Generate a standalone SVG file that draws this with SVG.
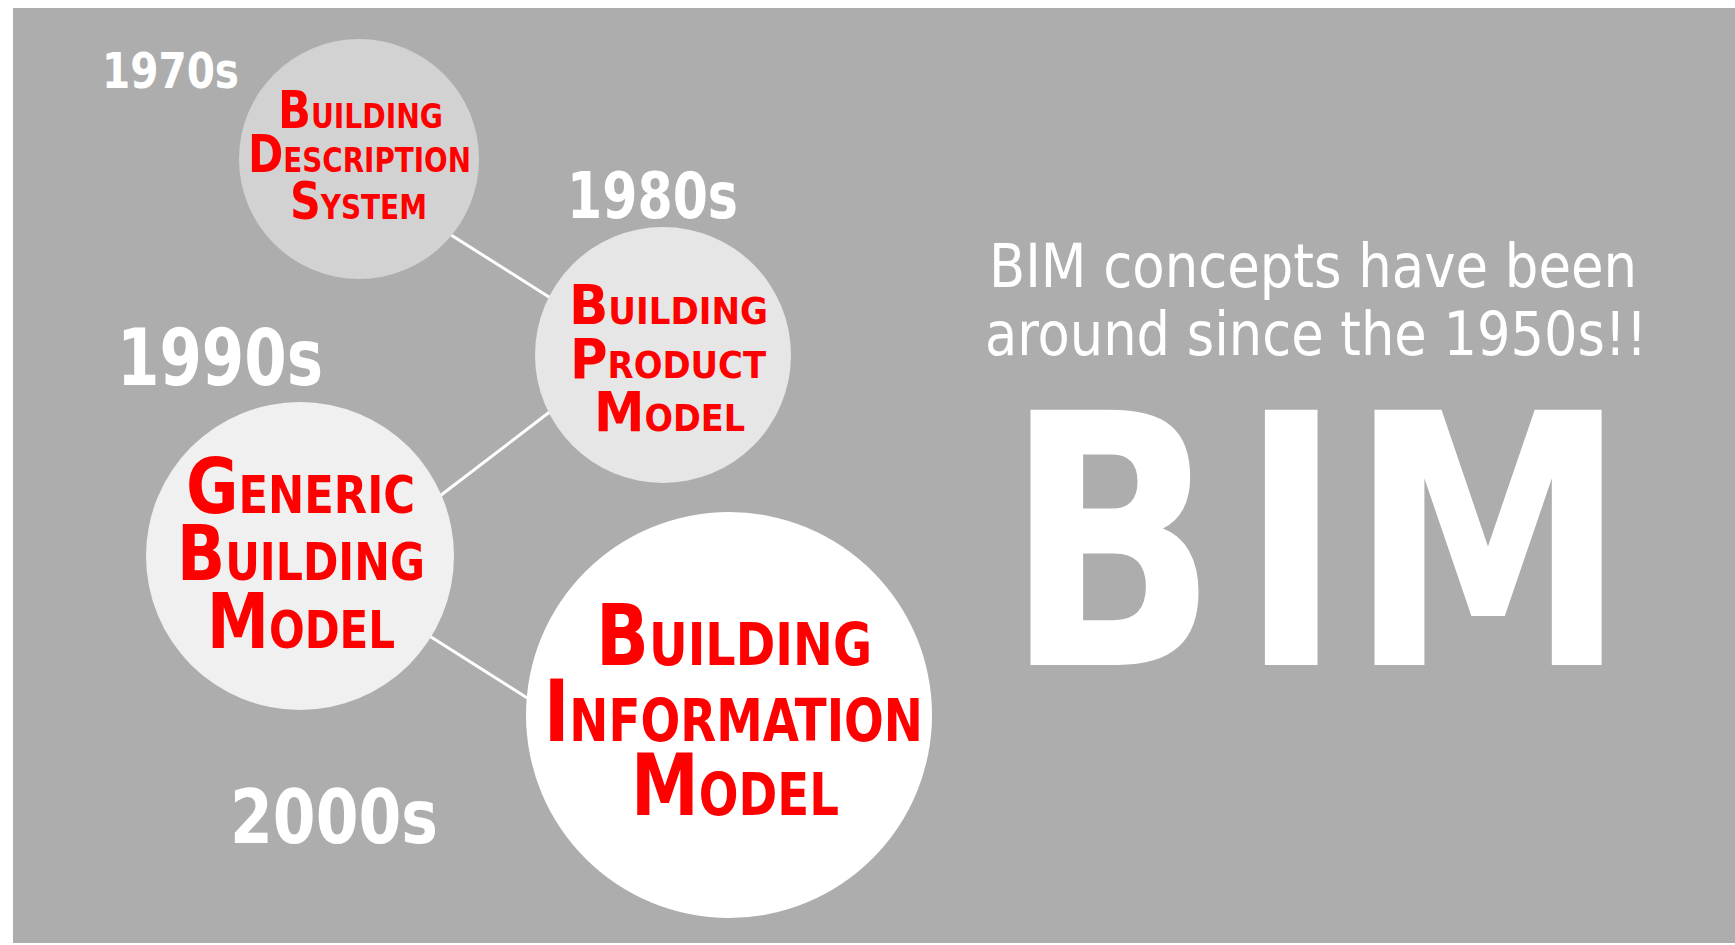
<svg xmlns="http://www.w3.org/2000/svg" width="1735" height="945" viewBox="0 0 1735 945">
<style>
.bg{fill:#adadad}
.yr{fill:#fff;font-family:"DejaVu Sans Condensed","DejaVu Sans",sans-serif;font-weight:bold}
.r{fill:#f00;font-family:"DejaVu Sans Condensed","DejaVu Sans",sans-serif;font-weight:bold}
.note{fill:#fff;font-family:"DejaVu Sans Condensed","DejaVu Sans",sans-serif;font-size:60px}
.big{fill:#fff;font-family:"DejaVu Sans","DejaVu Sans Condensed",sans-serif;font-weight:bold;font-size:350px}
.conn{stroke:#fff;stroke-width:3;fill:none}
</style>
<rect x="0" y="0" width="1735" height="945" fill="#fff"/>
<rect class="bg" x="13" y="8" width="1722" height="935"/>
<g id="connectors">
<line class="conn" x1="440" y1="228" x2="560" y2="304"/>
<line class="conn" x1="560" y1="404" x2="432" y2="502"/>
<line class="conn" x1="420" y1="630" x2="540" y2="706"/>
</g>
<g id="node-bds">
<circle cx="359" cy="159" r="120" fill="#d2d2d2"/>
<text class="r" x="278" y="128" font-size="34" textLength="165" lengthAdjust="spacingAndGlyphs"><tspan font-size="52">B</tspan>UILDING</text>
<text class="r" x="248" y="172" font-size="34" textLength="223" lengthAdjust="spacingAndGlyphs"><tspan font-size="52">D</tspan>ESCRIPTION</text>
<text class="r" x="290" y="219" font-size="34" textLength="137" lengthAdjust="spacingAndGlyphs"><tspan font-size="52">S</tspan>YSTEM</text>
</g>
<g id="node-bpm">
<circle cx="663" cy="355" r="128" fill="#e6e6e6"/>
<text class="r" x="569" y="324" font-size="37" textLength="199" lengthAdjust="spacingAndGlyphs"><tspan font-size="56">B</tspan>UILDING</text>
<text class="r" x="570" y="378" font-size="37" textLength="196" lengthAdjust="spacingAndGlyphs"><tspan font-size="56">P</tspan>RODUCT</text>
<text class="r" x="594" y="431" font-size="37" textLength="151" lengthAdjust="spacingAndGlyphs"><tspan font-size="56">M</tspan>ODEL</text>
</g>
<g id="node-gbm">
<circle cx="300" cy="556" r="154" fill="#f0f0f0"/>
<text class="r" x="186" y="513" font-size="52" textLength="229" lengthAdjust="spacingAndGlyphs"><tspan font-size="77">G</tspan>ENERIC</text>
<text class="r" x="177" y="580" font-size="52" textLength="248" lengthAdjust="spacingAndGlyphs"><tspan font-size="77">B</tspan>UILDING</text>
<text class="r" x="207" y="648" font-size="52" textLength="188" lengthAdjust="spacingAndGlyphs"><tspan font-size="77">M</tspan>ODEL</text>
</g>
<g id="node-bim">
<circle cx="729" cy="715" r="203" fill="#fff"/>
<text class="r" x="596" y="665" font-size="59" textLength="276" lengthAdjust="spacingAndGlyphs"><tspan font-size="86">B</tspan>UILDING</text>
<text class="r" x="544" y="741" font-size="59" textLength="379" lengthAdjust="spacingAndGlyphs"><tspan font-size="86">I</tspan>NFORMATION</text>
<text class="r" x="631" y="815" font-size="59" textLength="208" lengthAdjust="spacingAndGlyphs"><tspan font-size="86">M</tspan>ODEL</text>
</g>
<g id="years">
<text class="yr" x="102" y="88" font-size="49" textLength="137" lengthAdjust="spacingAndGlyphs">1970s</text>
<text class="yr" x="567" y="218" font-size="64" textLength="171" lengthAdjust="spacingAndGlyphs">1980s</text>
<text class="yr" x="117" y="385" font-size="78" textLength="206" lengthAdjust="spacingAndGlyphs">1990s</text>
<text class="yr" x="230" y="843" font-size="75" textLength="208" lengthAdjust="spacingAndGlyphs">2000s</text>
</g>
<g id="note">
<text class="note" x="989" y="287" textLength="648" lengthAdjust="spacingAndGlyphs">BIM concepts have been</text>
<text class="note" x="985" y="355" textLength="662" lengthAdjust="spacingAndGlyphs">around since the 1950s!!</text>
</g>
<g id="bim-title">
<text class="big" transform="scale(0.8,1)" x="1256 1549 1686" y="665">BIM</text>
</g>
</svg>
